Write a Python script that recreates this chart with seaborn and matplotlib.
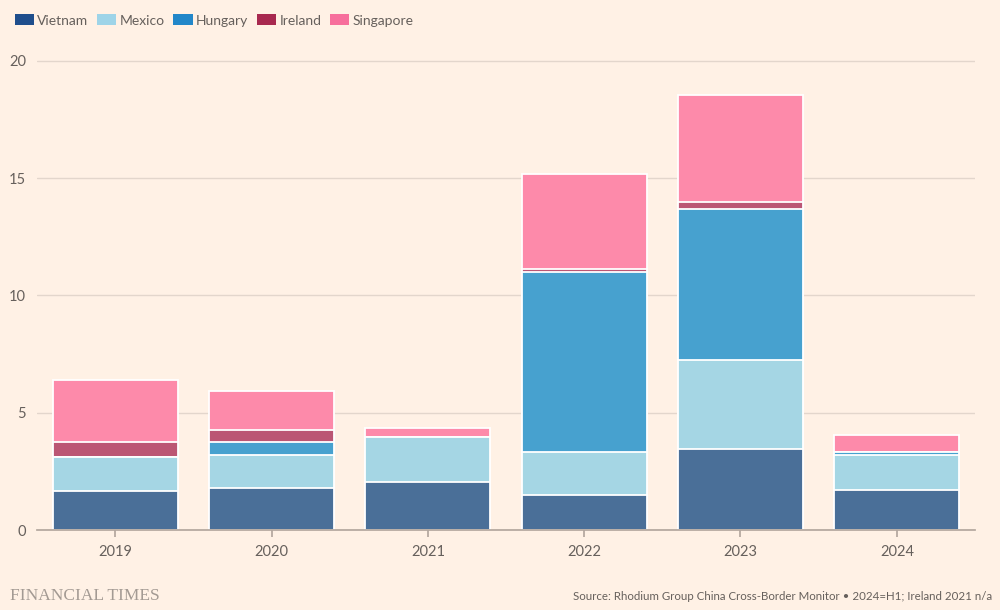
import numpy as np
import pandas as pd
import matplotlib
matplotlib.use("Agg")
import matplotlib.pyplot as plt
from matplotlib.patches import Patch
import seaborn as sns

# values ($bn)
years = ["2019", "2020", "2021", "2022", "2023", "2024"]
countries = ["Vietnam", "Mexico", "Hungary", "Ireland", "Singapore"]
vietnam = [1.66, 1.79, 2.05, 1.49, 3.45, 1.71]
mexico = [1.45, 1.41, 1.92, 1.84, 3.80, 1.49]
hungary = [0.0, 0.55, 0.0, 7.67, 6.44, 0.13]
ireland = [0.64, 0.51, 0.0, 0.13, 0.30, 0.0]
singapore = [2.65, 1.67, 0.38, 4.05, 4.56, 0.72]

bar_colors = ["#4a6f98", "#a5d6e4", "#47a1cf", "#bb5674", "#fd8aaa"]
legend_colors = ["#1f4e8c", "#9ed4e8", "#2287c9", "#a8294f", "#f76f9c"]
bg = "#fff1e5"
text_col = "#66605c"

sns.set_theme(style="white")
plt.rcParams["font.family"] = ["Lato", "DejaVu Sans"]

df = pd.DataFrame({"year": years, "Vietnam": vietnam, "Mexico": mexico,
                   "Hungary": hungary, "Ireland": ireland, "Singapore": singapore})
cum = df[countries].cumsum(axis=1)

fig = plt.figure(figsize=(10, 6.1), dpi=100, facecolor=bg)
ax = fig.add_axes([0.037, 0.131, 0.938, 0.80])
ax.set_facecolor(bg)

# draw cumulative bars tallest first so each segment sits on top of the one below
for name, col in reversed(list(zip(countries, bar_colors))):
    sns.barplot(x=df["year"], y=cum[name], color=col, width=0.8,
                edgecolor="white", linewidth=1.3, saturation=1, ax=ax, zorder=3)

ax.set_ylim(0, 20.8)
ax.set_xlim(-0.5, 5.5)
ax.set_yticks([0, 5, 10, 15, 20])
ax.yaxis.grid(True, color="#e3d6cc", linewidth=1, zorder=0)
ax.set_axisbelow(True)
for s in ["top", "right", "left"]:
    ax.spines[s].set_visible(False)
ax.spines["bottom"].set_color("#b3a79e")
ax.spines["bottom"].set_zorder(4)
ax.tick_params(axis="y", length=0, pad=8, labelsize=10.5, labelcolor=text_col)
ax.tick_params(axis="x", length=5, color="#b3a79e", pad=6, labelsize=10.5,
               labelcolor=text_col, direction="out", bottom=True)
ax.set_xlabel("")
ax.set_ylabel("")

handles = [Patch(facecolor=c, edgecolor="none") for c in legend_colors]
fig.legend(handles, countries, loc="upper left", bbox_to_anchor=(0.002, 0.997),
           ncol=5, frameon=False, fontsize=10, labelcolor=text_col,
           handlelength=1.4, handleheight=0.85, handletextpad=0.25,
           columnspacing=0.6)

fig.text(0.010, 0.016, "FINANCIAL TIMES", family=["Liberation Serif", "DejaVu Serif"],
         fontsize=12.5, color="#a39a93")
fig.text(0.992, 0.016, "Source: Rhodium Group China Cross-Border Monitor \u2022 2024=H1; Ireland 2021 n/a",
         ha="right", fontsize=8.3, color=text_col)

fig.savefig("out.png", dpi=100, facecolor=bg)
